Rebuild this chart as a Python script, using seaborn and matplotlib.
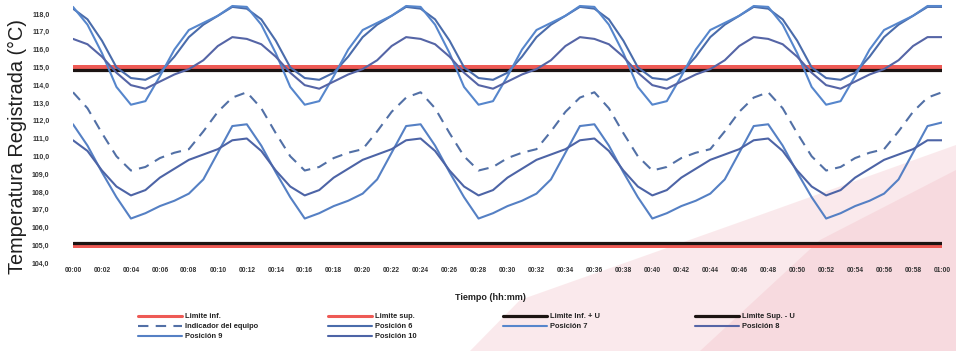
import matplotlib
matplotlib.use("Agg")
import matplotlib.pyplot as plt
import seaborn as sns
from matplotlib.patches import Polygon

# minutos desde el inicio del ensayo (00:00 a 01:00)
minutos = list(range(61))

# etiquetas del eje X cada 2 minutos
etiquetas_x = ["00:00", "00:02", "00:04", "00:06", "00:08", "00:10", "00:12", "00:14",
               "00:16", "00:18", "00:20", "00:22", "00:24", "00:26", "00:28", "00:30",
               "00:32", "00:34", "00:36", "00:38", "00:40", "00:42", "00:44", "00:46",
               "00:48", "00:50", "00:52", "00:54", "00:56", "00:58", "01:00"]

# limites
limite_inf = 105.0
limite_sup = 115.0
limite_inf_u = 105.15
limite_sup_u = 114.85

# lecturas (°C)
indicador = [113.6, 112.7, 111.3, 110.0, 109.2, 109.4, 109.9, 110.2, 110.4, 111.4, 112.5, 113.3,
             113.6, 112.7, 111.3, 110.0, 109.2, 109.4, 109.9, 110.2, 110.4, 111.4, 112.5, 113.3,
             113.6, 112.7, 111.3, 110.0, 109.2, 109.4, 109.9, 110.2, 110.4, 111.4, 112.5, 113.3,
             113.6, 112.7, 111.3, 110.0, 109.2, 109.4, 109.9, 110.2, 110.4, 111.4, 112.5, 113.3,
             113.6, 112.7, 111.3, 110.0, 109.2, 109.4, 109.9, 110.2, 110.4, 111.4, 112.5, 113.3,
             113.6]
posicion_6 = [118.3, 117.7, 116.5, 115.0, 114.4, 114.3, 114.7, 115.6, 116.7, 117.4, 117.9, 118.4,
              118.3, 117.7, 116.5, 115.0, 114.4, 114.3, 114.7, 115.6, 116.7, 117.4, 117.9, 118.4,
              118.3, 117.7, 116.5, 115.0, 114.4, 114.3, 114.7, 115.6, 116.7, 117.4, 117.9, 118.4,
              118.3, 117.7, 116.5, 115.0, 114.4, 114.3, 114.7, 115.6, 116.7, 117.4, 117.9, 118.4,
              118.3, 117.7, 116.5, 115.0, 114.4, 114.3, 114.7, 115.6, 116.7, 117.4, 117.9, 118.4,
              118.4]
posicion_7 = [118.4, 117.4, 115.8, 113.9, 112.9, 113.1, 114.5, 116.0, 117.1, 117.5, 117.9, 118.45,
              118.4, 117.4, 115.8, 113.9, 112.9, 113.1, 114.5, 116.0, 117.1, 117.5, 117.9, 118.45,
              118.4, 117.4, 115.8, 113.9, 112.9, 113.1, 114.5, 116.0, 117.1, 117.5, 117.9, 118.45,
              118.4, 117.4, 115.8, 113.9, 112.9, 113.1, 114.5, 116.0, 117.1, 117.5, 117.9, 118.45,
              118.4, 117.4, 115.8, 113.9, 112.9, 113.1, 114.5, 116.0, 117.1, 117.5, 117.9, 118.45,
              118.45]
posicion_8 = [116.6, 116.3, 115.6, 114.7, 114.0, 113.8, 114.2, 114.6, 114.9, 115.4, 116.2, 116.7,
              116.6, 116.3, 115.6, 114.7, 114.0, 113.8, 114.2, 114.6, 114.9, 115.4, 116.2, 116.7,
              116.6, 116.3, 115.6, 114.7, 114.0, 113.8, 114.2, 114.6, 114.9, 115.4, 116.2, 116.7,
              116.6, 116.3, 115.6, 114.7, 114.0, 113.8, 114.2, 114.6, 114.9, 115.4, 116.2, 116.7,
              116.6, 116.3, 115.6, 114.7, 114.0, 113.8, 114.2, 114.6, 114.9, 115.4, 116.2, 116.7,
              116.7]
posicion_9 = [111.8, 110.6, 109.1, 107.7, 106.5, 106.8, 107.2, 107.5, 107.9, 108.7, 110.2, 111.7,
              111.8, 110.6, 109.1, 107.7, 106.5, 106.8, 107.2, 107.5, 107.9, 108.7, 110.2, 111.7,
              111.8, 110.6, 109.1, 107.7, 106.5, 106.8, 107.2, 107.5, 107.9, 108.7, 110.2, 111.7,
              111.8, 110.6, 109.1, 107.7, 106.5, 106.8, 107.2, 107.5, 107.9, 108.7, 110.2, 111.7,
              111.8, 110.6, 109.1, 107.7, 106.5, 106.8, 107.2, 107.5, 107.9, 108.7, 110.2, 111.7,
              111.9]
posicion_10 = [110.9, 110.3, 109.2, 108.3, 107.8, 108.1, 108.8, 109.3, 109.8, 110.1, 110.4, 110.9,
               111.0, 110.3, 109.2, 108.3, 107.8, 108.1, 108.8, 109.3, 109.8, 110.1, 110.4, 110.9,
               111.0, 110.3, 109.2, 108.3, 107.8, 108.1, 108.8, 109.3, 109.8, 110.1, 110.4, 110.9,
               111.0, 110.3, 109.2, 108.3, 107.8, 108.1, 108.8, 109.3, 109.8, 110.1, 110.4, 110.9,
               111.0, 110.3, 109.2, 108.3, 107.8, 108.1, 108.8, 109.3, 109.8, 110.1, 110.4, 110.9,
               110.9]

sns.set_theme(style="white")
plt.rcParams['font.family'] = ['Liberation Sans', 'DejaVu Sans']

fig = plt.figure(figsize=(9.56, 3.51), dpi=100)
fig.patch.set_facecolor('white')

# mancha rosada de la marca de agua
rosa = Polygon([(470/956, 0), (1, 0), (1, 1 - 145/351), (760/956, 1 - 215/351), (520/956, 1 - 300/351)],
               closed=True, transform=fig.transFigure, facecolor='#f6d0d5', edgecolor='none',
               alpha=0.45, zorder=-5)
fig.add_artist(rosa)
rosa2 = Polygon([(700/956, 0), (1, 0), (1, 1 - 170/351), (820/956, 1 - 240/351)],
                closed=True, transform=fig.transFigure, facecolor='#f3c0c7', edgecolor='none',
                alpha=0.35, zorder=-4)
fig.add_artist(rosa2)

# eje: 118 en y=14 px, 104 en y=263 px; el tope se deja libre para los picos
px_grado = (263 - 14) / 14
y_top = 118.7
ax = fig.add_axes([73/956, 1 - 263/351, (942 - 73)/956, (263 - 14 + (y_top - 118) * px_grado)/351])
ax.patch.set_alpha(0)

# limites (rojo grueso debajo, negro encima)
ax.axhline(limite_inf, color='#ee5a55', lw=3.6, label='Limite inf.', zorder=2)
ax.axhline(limite_sup, color='#ee5a55', lw=3.6, label='Limite sup.', zorder=2)
ax.axhline(limite_inf_u, color='#1c1412', lw=2.3, label='Limite Inf. + U', zorder=3)
ax.axhline(limite_sup_u, color='#1c1412', lw=2.3, label='Limite Sup. - U', zorder=3)

sns.lineplot(x=minutos, y=indicador, ax=ax, color='#5270a6', lw=1.5, linestyle=(0, (5, 3.5)),
             label='Indicador del equipo', legend=False, zorder=4)
sns.lineplot(x=minutos, y=posicion_6, ax=ax, color='#4a6cab', lw=1.5, label='Posición 6', legend=False, zorder=4)
sns.lineplot(x=minutos, y=posicion_7, ax=ax, color='#5686cc', lw=1.5, label='Posición 7', legend=False, zorder=4)
sns.lineplot(x=minutos, y=posicion_8, ax=ax, color='#5565a6', lw=1.5, label='Posición 8', legend=False, zorder=4)
sns.lineplot(x=minutos, y=posicion_9, ax=ax, color='#5580c4', lw=1.5, label='Posición 9', legend=False, zorder=4)
sns.lineplot(x=minutos, y=posicion_10, ax=ax, color='#4d64a6', lw=1.5, label='Posición 10', legend=False, zorder=4)

ax.set_xlim(0, 60)
ax.set_ylim(104, y_top)
ax.set_xticks(minutos[::2])
ax.set_xticklabels(etiquetas_x, fontsize=4.8, fontweight='bold', color='#333333')
yt = list(range(104, 119))
ax.set_yticks(yt)
ax.set_yticklabels([f"{v:.1f}".replace('.', ',') for v in yt], fontsize=5, fontweight='bold', color='#333333')
ax.tick_params(axis='x', length=0, pad=3)
ax.tick_params(axis='y', length=0, pad=17)
for s in ax.spines.values():
    s.set_visible(False)
ax.grid(False)
ax.set_xlabel('')
ax.set_ylabel('')

fig.text(17/956, 1 - 147/351, 'Temperatura Registrada (°C)', rotation=90, fontsize=14.3,
         ha='center', va='center', color='#1e1e1e')
fig.text(490/956, 1 - 297/351, 'Tiempo (hh:mm)', fontsize=6.5, fontweight='bold',
         ha='center', va='center', color='#222222')

# leyenda en 4 columnas (orden por filas como en Excel)
h, l = ax.get_legend_handles_labels()
hd = dict(zip(l, h))
columnas = [
    (138, ['Limite inf.', 'Indicador del equipo', 'Posición 9']),
    (328, ['Limite sup.', 'Posición 6', 'Posición 10']),
    (503, ['Limite Inf. + U', 'Posición 7']),
    (695, ['Limite Sup. - U', 'Posición 8']),
]
for x0, labs in columnas:
    leg = fig.legend([hd[k] for k in labs], labs, loc='upper left',
                     bbox_to_anchor=(x0/956, 1 - 313/351), frameon=False,
                     prop={'size': 5.4, 'weight': 'bold'}, handlelength=5.8,
                     handletextpad=0.5, labelspacing=0.38, borderpad=0, borderaxespad=0,
                     handleheight=0.7)
    for t in leg.get_texts():
        t.set_color('#222222')
    for ln in leg.get_lines():
        if ln.get_color() == '#ee5a55':
            ln.set_linewidth(2.2)

fig.savefig('out.png', dpi=100)
